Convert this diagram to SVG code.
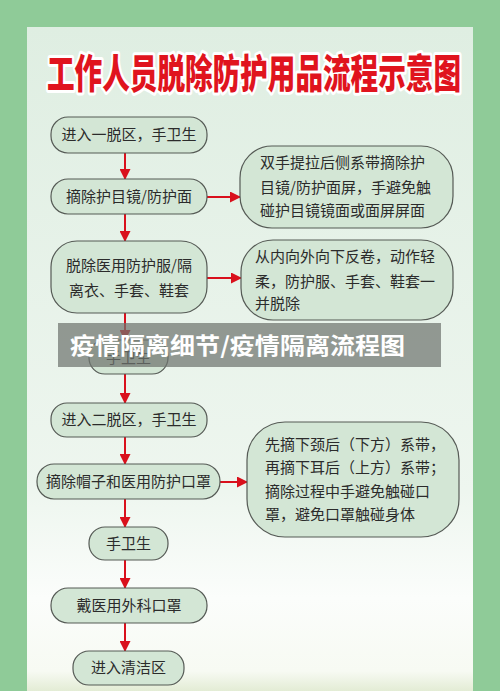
<svg xmlns="http://www.w3.org/2000/svg" width="500" height="691" viewBox="0 0 500 691">
<defs>
<linearGradient id="panel" x1="0" y1="0" x2="0" y2="1">
<stop offset="0" stop-color="#dfeee2"/>
<stop offset="0.7" stop-color="#eef6ef"/>
<stop offset="0.86" stop-color="#fbfdfb"/>
<stop offset="0.97" stop-color="#f7faf3"/>
<stop offset="1" stop-color="#e3ecd5"/>
</linearGradient>
<marker id="ah" markerWidth="11" markerHeight="11" refX="10" refY="5.5" orient="auto" markerUnits="userSpaceOnUse">
<path d="M0,0 L11,5.5 L0,11 Z" fill="#d9101c"/>
</marker>
<style>
.node rect{fill:#d3e6d5;stroke:#555a55;stroke-width:1.2}
.t{font-family:"Noto Sans CJK SC","Noto Sans",sans-serif;font-size:15px;fill:#2b2b2b}
.c{text-anchor:middle}
#connectors line{stroke:#d9101c;stroke-width:2;marker-end:url(#ah)}
</style>
</defs>
<rect width="500" height="691" fill="#8fcb98"/>
<rect x="27" y="27" width="446" height="664" fill="url(#panel)"/>
<text x="254" y="88" text-anchor="middle" font-family="'Noto Sans CJK SC',sans-serif" font-weight="900" font-size="40" fill="#e0141e" stroke="#ffffff" stroke-width="6" stroke-linejoin="round" paint-order="stroke" textLength="414" lengthAdjust="spacingAndGlyphs">工作人员脱除防护用品流程示意图</text>

<g id="connectors">
<line x1="125" y1="153" x2="125" y2="179"/>
<line x1="125" y1="214" x2="125" y2="241"/>
<line x1="207" y1="197" x2="240" y2="197"/>
<line x1="207" y1="278" x2="241" y2="278"/>
<line x1="125" y1="313" x2="125" y2="340"/>
<line x1="125" y1="374" x2="125" y2="403"/>
<line x1="125" y1="437" x2="125" y2="464"/>
<line x1="220" y1="482" x2="247" y2="482"/>
<line x1="125" y1="499" x2="125" y2="527"/>
<line x1="125" y1="560" x2="125" y2="588"/>
<line x1="125" y1="623" x2="125" y2="651"/>
</g>

<g id="n1" class="node"><rect x="51" y="117" width="156" height="36" rx="17"/><text class="t c" x="129" y="140">进入一脱区，手卫生</text></g>
<g id="n2" class="node"><rect x="51" y="179" width="156" height="35" rx="17"/><text class="t c" x="129" y="202">摘除护目镜/防护面</text></g>
<g id="n3" class="node"><rect x="51" y="241" width="156" height="72" rx="26"/><text class="t c" x="129" y="271">脱除医用防护服/隔</text><text class="t c" x="129" y="296">离衣、手套、鞋套</text></g>
<g id="r1" class="node"><rect x="240" y="146" width="213" height="82" rx="32"/><text class="t" x="260" y="168">双手提拉后侧系带摘除护</text><text class="t" x="260" y="193">目镜/防护面屏，手避免触</text><text class="t" x="260" y="216">碰护目镜镜面或面屏屏面</text></g>
<g id="r2" class="node"><rect x="241" y="240" width="212" height="80" rx="32"/><text class="t" x="255" y="262">从内向外向下反卷，动作轻</text><text class="t" x="255" y="287">柔，防护服、手套、鞋套一</text><text class="t" x="255" y="309">并脱除</text></g>
<g id="n4" class="node"><rect x="89" y="340" width="79" height="34" rx="16"/><text class="t c" x="128.5" y="363">手卫生</text></g>
<g id="n5" class="node"><rect x="51" y="403" width="156" height="34" rx="16"/><text class="t c" x="129" y="425">进入二脱区，手卫生</text></g>
<g id="n6" class="node"><rect x="37" y="464" width="183" height="35" rx="17"/><text class="t c" x="128.5" y="487">摘除帽子和医用防护口罩</text></g>
<g id="r3" class="node"><rect x="247" y="422" width="212" height="115" rx="38"/><text class="t" x="265" y="450">先摘下颈后（下方）系带，</text><text class="t" x="265" y="473">再摘下耳后（上方）系带；</text><text class="t" x="265" y="497">摘除过程中手避免触碰口</text><text class="t" x="265" y="520">罩，避免口罩触碰身体</text></g>
<g id="n7" class="node"><rect x="89" y="527" width="79" height="33" rx="16"/><text class="t c" x="128.5" y="549">手卫生</text></g>
<g id="n8" class="node"><rect x="51" y="588" width="156" height="35" rx="17"/><text class="t c" x="129" y="611">戴医用外科口罩</text></g>
<g id="n9" class="node"><rect x="73" y="651" width="111" height="34" rx="16"/><text class="t c" x="128.5" y="673">进入清洁区</text></g>

<rect x="58" y="323" width="383" height="44" fill="#6f746f" fill-opacity="0.72"/>
<text x="70" y="354" font-family="'Noto Sans CJK SC',sans-serif" font-weight="700" font-size="23" fill="#ffffff" textLength="335" lengthAdjust="spacingAndGlyphs">疫情隔离细节/疫情隔离流程图</text>
</svg>
